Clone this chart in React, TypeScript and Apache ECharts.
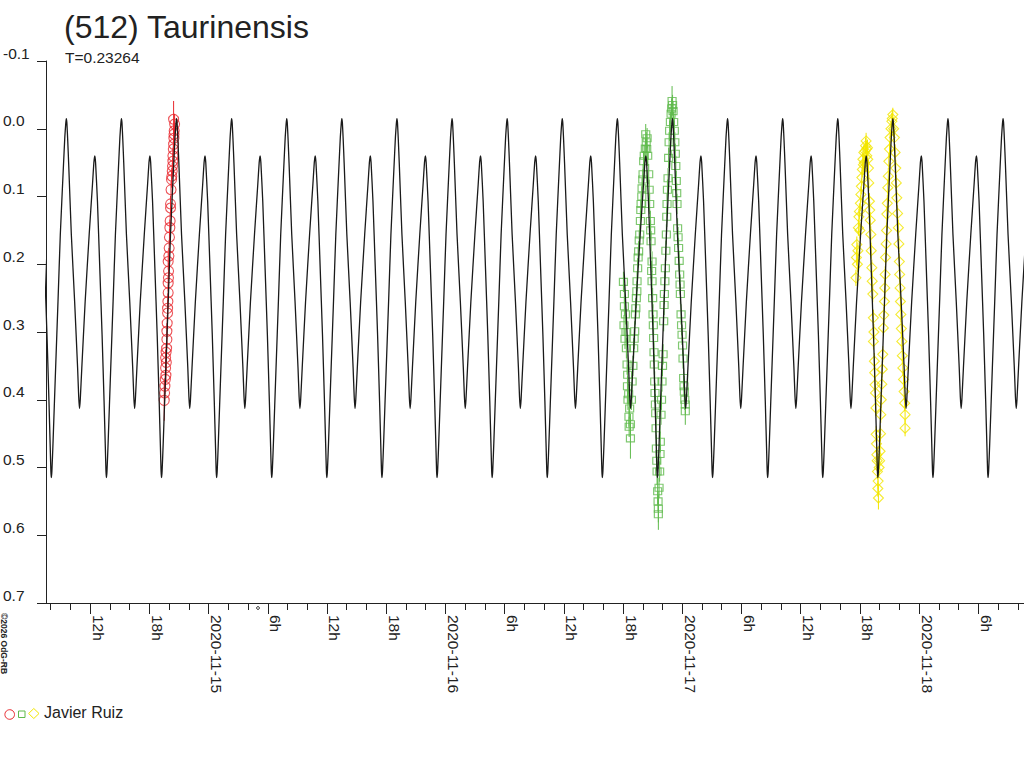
import React, { useEffect, useRef } from 'react';
import * as echarts from 'echarts';

const TITLE = '(512) Taurinensis';
const PERIOD_LABEL = 'T=0.23264';
const OBSERVER = 'Javier Ruiz';
const COPYRIGHT = '©2026 OdG-RB';

// x values are hours since 2020-11-14 00:00 UT
const X_MIN = 7.53;
const X_MAX = 106.63;
const DAY_LABELS = ['2020-11-14', '2020-11-15', '2020-11-16', '2020-11-17', '2020-11-18'];
const MAJOR_TICKS = [12, 18, 24, 30, 36, 42, 48, 54, 60, 66, 72, 78, 84, 90, 96, 102];
const MINOR_STEP = 2;
const Y_MIN = -0.1;
const Y_MAX = 0.7;
const Y_STEP = 0.1;

// model lightcurve: one period (phase 0 = deep minimum)
const PERIOD_DAYS = 0.23264;
const EPOCH_HOURS = 8.07;
const MODEL_PHASE = [0.0, 0.01, 0.03, 0.078, 0.121, 0.163, 0.218, 0.245, 0.262, 0.272, 0.282, 0.298, 0.314, 0.363, 0.423, 0.477, 0.497, 0.511, 0.525, 0.553, 0.614, 0.687, 0.747, 0.772, 0.789, 0.803, 0.837, 0.879, 0.921, 0.957, 0.98, 0.992];
const MODEL_MAG = [0.515, 0.506, 0.465, 0.353, 0.255, 0.156, 0.058, 0.012, -0.008, -0.015, -0.009, 0.018, 0.05, 0.156, 0.255, 0.353, 0.396, 0.413, 0.4, 0.353, 0.255, 0.156, 0.082, 0.05, 0.04, 0.05, 0.107, 0.205, 0.304, 0.402, 0.47, 0.506];

// observations: [hours since 2020-11-14 00:00 UT, magnitude, error]
const RED_POINTS: [number, number, number][] = [
  [19.51, 0.401, 0.03], [19.58, 0.38, 0.012], [19.68, 0.364, 0.012], [19.65, 0.353, 0.012], [19.65, 0.338, 0.012],
  [19.75, 0.324, 0.012], [19.78, 0.311, 0.012], [19.78, 0.299, 0.012], [19.81, 0.287, 0.012], [19.85, 0.272, 0.012],
  [19.85, 0.265, 0.012], [19.91, 0.242, 0.012], [19.91, 0.228, 0.012], [19.95, 0.21, 0.012], [19.91, 0.196, 0.012],
  [19.98, 0.188, 0.012], [20.01, 0.176, 0.012], [20.08, 0.146, 0.012], [20.11, 0.136, 0.012], [20.15, 0.117, 0.012],
  [20.15, 0.111, 0.012], [20.25, 0.075, 0.012], [20.32, 0.0625, 0.012], [20.39, 0.048, 0.012], [20.39, 0.04, 0.012],
  [20.46, 0.023, 0.012], [20.49, 0.014, 0.012], [20.52, 0.003, 0.015], [20.46, -0.014, 0.027], [20.56, -0.007, 0.015],
  [19.55, 0.39, 0.012], [19.62, 0.37, 0.012], [19.7, 0.33, 0.012], [19.72, 0.345, 0.012], [19.88, 0.255, 0.012],
  [19.94, 0.22, 0.012], [20.04, 0.16, 0.012], [20.2, 0.09, 0.012], [20.28, 0.07, 0.012], [20.35, 0.055, 0.012],
  [20.43, 0.03, 0.012], [20.5, 0.008, 0.012],
];

const GREEN_POINTS: [number, number, number][] = [
  [66.04, 0.226, 0.015], [66.14, 0.244, 0.015], [66.14, 0.262, 0.015], [66.24, 0.274, 0.015], [66.34, 0.324, 0.015],
  [66.41, 0.348, 0.015], [66.47, 0.363, 0.015], [66.57, 0.392, 0.015], [66.67, 0.413, 0.015], [66.75, 0.436, 0.015],
  [66.75, 0.457, 0.03], [66.6, 0.425, 0.015],
  [66.92, 0.373, 0.015], [67.08, 0.324, 0.015], [67.18, 0.299, 0.015], [67.25, 0.274, 0.015], [67.35, 0.25, 0.015],
  [67.42, 0.225, 0.015], [67.48, 0.206, 0.015], [67.58, 0.181, 0.015], [67.69, 0.156, 0.015], [67.76, 0.136, 0.015],
  [67.83, 0.111, 0.015], [67.93, 0.088, 0.015], [68.03, 0.067, 0.015], [68.09, 0.048, 0.015], [68.26, 0.029, 0.015],
  [68.44, 0.014, 0.015], [68.4, 0.03, 0.015], [68.3, 0.008, 0.015],
  [68.6, 0.067, 0.015], [68.7, 0.111, 0.015], [68.77, 0.136, 0.015], [68.84, 0.166, 0.015], [68.94, 0.196, 0.015],
  [68.94, 0.225, 0.015], [69.0, 0.25, 0.015], [69.04, 0.274, 0.015], [69.1, 0.309, 0.015], [69.17, 0.348, 0.015],
  [69.21, 0.373, 0.015], [69.28, 0.407, 0.015], [69.35, 0.442, 0.015], [69.38, 0.472, 0.02], [69.45, 0.506, 0.02],
  [69.51, 0.535, 0.02], [69.58, 0.561, 0.02], [69.58, 0.569, 0.023],
  [69.71, 0.506, 0.015], [69.78, 0.462, 0.015], [69.85, 0.422, 0.015], [69.95, 0.373, 0.015], [70.06, 0.333, 0.015],
  [70.12, 0.284, 0.015], [70.19, 0.244, 0.015], [70.29, 0.206, 0.015], [70.39, 0.156, 0.015], [70.46, 0.111, 0.015],
  [70.56, 0.073, 0.015], [70.62, 0.043, 0.015], [70.72, 0.003, 0.015], [70.87, -0.022, 0.015], [70.97, -0.041, 0.022],
  [71.07, -0.026, 0.015],
  [71.2, 0.003, 0.015], [71.3, 0.037, 0.015], [71.4, 0.077, 0.015], [71.47, 0.111, 0.015], [71.53, 0.147, 0.015],
  [71.63, 0.176, 0.015], [71.74, 0.215, 0.015], [71.81, 0.244, 0.015], [71.88, 0.274, 0.015], [71.98, 0.304, 0.015],
  [72.08, 0.339, 0.015], [72.14, 0.368, 0.015], [72.21, 0.388, 0.015], [72.31, 0.407, 0.015], [72.31, 0.417, 0.02],
  [66.1, 0.29, 0.015], [66.2, 0.31, 0.015], [66.3, 0.3, 0.015], [66.45, 0.38, 0.015], [66.5, 0.4, 0.015],
  [66.62, 0.44, 0.015], [66.85, 0.4, 0.015], [67.0, 0.35, 0.015], [67.13, 0.31, 0.015], [67.3, 0.265, 0.015],
  [67.4, 0.24, 0.015], [67.53, 0.19, 0.015], [67.64, 0.165, 0.015], [67.8, 0.12, 0.015], [67.9, 0.1, 0.015],
  [68.0, 0.075, 0.015], [68.15, 0.04, 0.015], [68.35, 0.02, 0.015], [68.5, 0.04, 0.015], [68.65, 0.09, 0.015],
  [68.8, 0.15, 0.015], [68.9, 0.21, 0.015], [69.07, 0.29, 0.015], [69.14, 0.33, 0.015], [69.24, 0.39, 0.015],
  [69.31, 0.42, 0.015], [69.42, 0.49, 0.015], [69.55, 0.55, 0.015], [69.65, 0.53, 0.015], [69.75, 0.48, 0.015],
  [69.9, 0.4, 0.015], [70.0, 0.35, 0.015], [70.16, 0.26, 0.015], [70.24, 0.225, 0.015], [70.34, 0.18, 0.015],
  [70.43, 0.13, 0.015], [70.5, 0.09, 0.015], [70.67, 0.02, 0.015], [70.8, -0.01, 0.015], [70.92, -0.03, 0.015],
  [71.02, -0.035, 0.015], [71.13, -0.01, 0.015], [71.25, 0.02, 0.015], [71.35, 0.055, 0.015], [71.44, 0.095, 0.015],
  [71.58, 0.16, 0.015], [71.69, 0.195, 0.015], [71.78, 0.23, 0.015], [71.93, 0.29, 0.015], [72.03, 0.32, 0.015],
  [72.18, 0.38, 0.015], [72.26, 0.4, 0.015],
];

const YELLOW_POINTS: [number, number, number][] = [
  [89.69, 0.171, 0.012], [89.75, 0.2, 0.012], [89.8, 0.18, 0.012], [89.85, 0.146, 0.012], [89.95, 0.122, 0.012],
  [90.0, 0.15, 0.012], [90.1, 0.097, 0.012], [90.2, 0.072, 0.012], [90.36, 0.053, 0.012], [90.45, 0.05, 0.012],
  [90.53, 0.033, 0.012], [90.63, 0.018, 0.012], [90.7, 0.04, 0.012], [90.77, 0.028, 0.012],
  [90.87, 0.058, 0.012], [90.9, 0.08, 0.012], [90.97, 0.107, 0.012], [91.11, 0.156, 0.012], [91.21, 0.205, 0.012],
  [91.31, 0.244, 0.012], [91.37, 0.279, 0.012], [91.37, 0.314, 0.012], [91.47, 0.343, 0.012], [91.54, 0.378, 0.012],
  [91.62, 0.412, 0.012], [91.65, 0.451, 0.012], [91.72, 0.481, 0.012], [91.78, 0.506, 0.012], [91.82, 0.531, 0.012],
  [91.88, 0.545, 0.017],
  [92.05, 0.476, 0.012], [92.12, 0.422, 0.012], [92.22, 0.377, 0.012], [92.32, 0.333, 0.012], [92.38, 0.294, 0.012],
  [92.49, 0.255, 0.012], [92.56, 0.215, 0.012], [92.66, 0.17, 0.012], [92.73, 0.126, 0.012], [92.83, 0.087, 0.012],
  [92.93, 0.048, 0.012], [93.06, 0.013, 0.012], [93.24, -0.011, 0.012], [93.34, -0.021, 0.01],
  [93.5, 0.013, 0.012], [93.64, 0.058, 0.012], [93.74, 0.102, 0.012], [93.9, 0.146, 0.012], [94.0, 0.196, 0.012],
  [94.07, 0.235, 0.012], [94.15, 0.274, 0.012], [94.25, 0.314, 0.012], [94.35, 0.353, 0.012], [94.48, 0.388, 0.012],
  [94.58, 0.422, 0.012], [94.58, 0.442, 0.012],
  [89.6, 0.22, 0.012], [89.65, 0.19, 0.012], [89.9, 0.13, 0.012], [90.05, 0.11, 0.012], [90.15, 0.085, 0.012],
  [90.25, 0.06, 0.012], [90.3, 0.045, 0.012], [90.4, 0.035, 0.012], [90.58, 0.025, 0.012], [90.68, 0.03, 0.012],
  [90.8, 0.045, 0.012], [91.0, 0.12, 0.012], [91.05, 0.135, 0.012], [91.15, 0.18, 0.012], [91.25, 0.225, 0.012],
  [91.42, 0.3, 0.012], [91.5, 0.36, 0.012], [91.58, 0.39, 0.012], [91.68, 0.465, 0.012], [91.75, 0.49, 0.012],
  [91.85, 0.52, 0.012], [91.95, 0.5, 0.012], [92.0, 0.49, 0.012], [92.09, 0.45, 0.012], [92.17, 0.4, 0.012],
  [92.27, 0.355, 0.012], [92.43, 0.275, 0.012], [92.52, 0.235, 0.012], [92.6, 0.19, 0.012], [92.7, 0.15, 0.012],
  [92.78, 0.11, 0.012], [92.88, 0.07, 0.012], [93.0, 0.03, 0.012], [93.15, 0.0, 0.012], [93.28, -0.015, 0.012],
  [93.42, 0.0, 0.012], [93.57, 0.035, 0.012], [93.69, 0.08, 0.012], [93.82, 0.125, 0.012], [93.95, 0.17, 0.012],
  [94.03, 0.215, 0.012], [94.11, 0.255, 0.012], [94.2, 0.295, 0.012], [94.3, 0.335, 0.012], [94.42, 0.37, 0.012],
  [94.53, 0.405, 0.012],
];

const RED = '#e8282e';
const GREEN = '#5fba4c';
const YELLOW = '#f3e600';
const INK = '#222222';
const FONT = '"Liberation Sans", Arial, sans-serif';

function errorSeries(points: [number, number, number][], color: string) {
  return {
    type: 'custom',
    silent: true,
    z: 1,
    data: points,
    encode: { x: 0, y: 1 },
    renderItem: (_params: any, api: any) => {
      const t = api.value(0);
      const m = api.value(1);
      const e = api.value(2);
      const p1 = api.coord([t, m - e]);
      const p2 = api.coord([t, m + e]);
      return {
        type: 'line',
        shape: { x1: p1[0], y1: p1[1], x2: p2[0], y2: p2[1] },
        style: { stroke: color, lineWidth: 1 },
      };
    },
  };
}

export default function App() {
  const ref = useRef<HTMLDivElement>(null);

  useEffect(() => {
    if (!ref.current) return;
    const chart = echarts.init(ref.current, null, { renderer: 'svg' });

    const modelCurve: number[][] = [];
    for (let k = -1; k <= 18; k++) {
      for (let i = 0; i < MODEL_PHASE.length; i++) {
        modelCurve.push([EPOCH_HOURS + (k + MODEL_PHASE[i]) * PERIOD_DAYS * 24, MODEL_MAG[i]]);
      }
    }

    const minorTicks: number[] = [];
    for (let h = Math.ceil(X_MIN / MINOR_STEP) * MINOR_STEP; h <= X_MAX; h += MINOR_STEP) minorTicks.push(h);

    const hollow = (color: string) => ({ color: 'rgba(0,0,0,0)', borderColor: color, borderWidth: 1.1 });

    chart.setOption({
      animation: false,
      grid: { left: 45, right: 0, top: 61, bottom: 165, containLabel: false },
      xAxis: [
        {
          type: 'value',
          min: X_MIN,
          max: X_MAX,
          position: 'bottom',
          axisLine: { show: true, onZero: false, lineStyle: { color: INK, width: 1 } },
          axisTick: { show: true, customValues: MAJOR_TICKS, length: 11, lineStyle: { color: INK, width: 1 } },
          axisLabel: {
            show: true,
            customValues: MAJOR_TICKS,
            rotate: -90,
            align: 'left',
            verticalAlign: 'bottom',
            margin: 12,
            fontSize: 15.5,
            fontFamily: FONT,
            color: INK,
            formatter: (v: number) => {
              const h = Math.round(v);
              return h % 24 === 0 ? DAY_LABELS[h / 24] : `${h % 24}h`;
            },
          },
          splitLine: { show: false },
        },
        {
          type: 'value',
          min: X_MIN,
          max: X_MAX,
          position: 'bottom',
          axisLine: { show: false, onZero: false },
          axisTick: { show: true, customValues: minorTicks, length: 7, lineStyle: { color: INK, width: 1 } },
          axisLabel: { show: false },
          splitLine: { show: false },
        },
      ],
      yAxis: {
        type: 'value',
        inverse: true,
        min: Y_MIN,
        max: Y_MAX,
        interval: Y_STEP,
        axisLine: { show: true, onZero: false, lineStyle: { color: INK, width: 1 } },
        axisTick: { show: true, length: 9, lineStyle: { color: INK, width: 1 } },
        axisLabel: {
          align: 'left',
          verticalAlign: 'bottom',
          margin: 43,
          fontSize: 15.5,
          fontFamily: FONT,
          color: INK,
          formatter: (v: number) => v.toFixed(1),
        },
        splitLine: { show: false },
      },
      series: [
        errorSeries(RED_POINTS, RED),
        errorSeries(GREEN_POINTS, GREEN),
        errorSeries(YELLOW_POINTS, YELLOW),
        {
          type: 'scatter',
          z: 2,
          silent: true,
          symbol: 'circle',
          symbolSize: 10,
          itemStyle: hollow(RED),
          data: RED_POINTS.map((p) => [p[0], p[1]]),
        },
        {
          type: 'scatter',
          z: 2,
          silent: true,
          symbol: 'rect',
          symbolSize: [8, 7],
          itemStyle: hollow(GREEN),
          data: GREEN_POINTS.map((p) => [p[0], p[1]]),
        },
        {
          type: 'scatter',
          z: 2,
          silent: true,
          symbol: 'diamond',
          symbolSize: 10,
          itemStyle: hollow(YELLOW),
          data: YELLOW_POINTS.map((p) => [p[0], p[1]]),
        },
        {
          type: 'line',
          z: 3,
          silent: true,
          showSymbol: false,
          smooth: 0.15,
          clip: true,
          lineStyle: { color: '#1a1a1a', width: 1.3 },
          data: modelCurve,
        },
      ],
      graphic: [
        {
          type: 'text',
          x: 64,
          y: 11,
          style: { text: TITLE, fontSize: 32, fontFamily: FONT, fill: INK, align: 'left', verticalAlign: 'top' },
        },
        {
          type: 'text',
          x: 65,
          y: 49,
          style: { text: PERIOD_LABEL, fontSize: 15.5, fontFamily: FONT, fill: INK, align: 'left', verticalAlign: 'top' },
        },
        {
          type: 'text',
          x: 8.5,
          y: 613,
          rotation: -Math.PI / 2,
          style: { text: COPYRIGHT, fontSize: 8.5, fontWeight: 'bold', fontFamily: FONT, fill: INK, align: 'left', verticalAlign: 'top' },
        },
        {
          type: 'circle',
          shape: { cx: 258, cy: 608, r: 1.4 },
          style: { fill: 'none', stroke: INK, lineWidth: 1 },
        },
        {
          type: 'circle',
          shape: { cx: 9.7, cy: 714.5, r: 4.8 },
          style: { fill: 'none', stroke: RED, lineWidth: 1 },
        },
        {
          type: 'rect',
          shape: { x: 18.5, y: 711, width: 6.5, height: 6.5 },
          style: { fill: 'none', stroke: GREEN, lineWidth: 1 },
        },
        {
          type: 'polygon',
          shape: { points: [[33.8, 708.5], [39, 713.5], [33.8, 718.5], [28.6, 713.5]] },
          style: { fill: 'none', stroke: YELLOW, lineWidth: 1 },
        },
        {
          type: 'text',
          x: 44,
          y: 712.5,
          style: { text: OBSERVER, fontSize: 16, fontFamily: FONT, fill: INK, align: 'left', verticalAlign: 'middle' },
        },
      ],
    });

    return () => chart.dispose();
  }, []);

  return <div ref={ref} style={{ position: 'fixed', left: 0, top: 0, width: 1024, height: 768, background: '#fff' }} />;
}
